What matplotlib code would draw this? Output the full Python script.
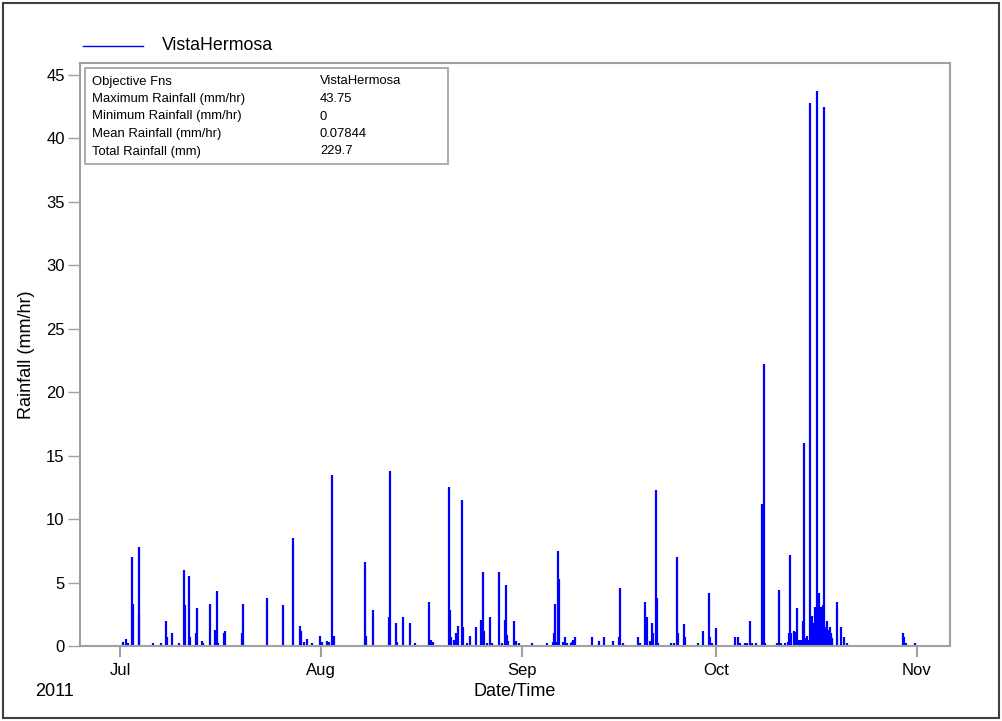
import matplotlib
matplotlib.use('Agg')
import matplotlib.pyplot as plt
import matplotlib.dates as mdates
from matplotlib.patches import Rectangle
import pandas as pd

plt.rcParams['font.family'] = ['Liberation Sans', 'DejaVu Sans']

# rainfall spikes: days after 2011-07-01 00:00, rainfall (mm/hr)
days = [
    0.46, 0.88, 1.28, 1.90, 2.05, 2.89, 2.98, 5.14, 6.37, 7.05, 7.21, 8.02,
    9.06, 9.83, 10.03, 10.65, 10.80, 11.68, 11.88, 12.65, 12.85, 13.94, 14.71,
    14.92, 15.12, 16.00, 16.16, 18.78, 18.94, 22.64, 25.11, 26.65, 27.82,
    27.93, 28.44, 28.81, 29.68, 30.86, 31.13, 31.99, 32.30, 32.72, 33.02,
    37.81, 37.96, 39.00,
    41.56, 41.71, 42.59, 42.79, 43.72, 44.71, 45.52, 47.73, 47.95, 48.26,
    50.82, 50.97, 51.13, 51.54, 51.85, 52.11, 52.82, 52.98, 53.50, 53.97,
    54.94, 55.66, 55.86, 56.07, 56.22, 56.64, 57.05, 57.36, 58.49, 58.95,
    59.46, 59.57, 59.77, 59.92, 60.85, 61.16, 61.62, 63.53, 65.85, 66.77,
    66.93, 67.08, 67.48, 67.64, 67.72, 68.32, 68.67, 68.93, 69.55, 69.75,
    69.91, 70.17, 72.89, 73.92, 74.74, 76.13, 77.06, 77.16, 77.58, 79.98,
    80.20, 80.97, 81.28, 81.79, 82.05, 82.25, 82.76, 82.87, 83.07, 85.03,
    85.45, 86.00, 86.16,
    87.05, 87.16, 89.18, 89.97, 90.83, 91.05, 91.31, 91.94, 94.92, 95.45,
    95.72, 96.45, 96.76, 97.25, 97.53, 98.21, 99.07, 99.23, 99.38, 99.54,
    101.40, 101.67, 102.01, 102.69, 103.09, 103.32, 103.43, 103.58, 104.01,
    104.12, 104.54, 104.78, 105.09, 105.40, 105.56, 105.80, 106.10, 106.25,
    106.40, 106.56, 106.63, 106.70, 106.82, 106.88, 106.95, 107.04, 107.10,
    107.15, 107.25, 107.33, 107.41, 107.52, 107.62, 107.68, 107.74, 107.84,
    107.92, 107.99, 108.07, 108.15, 108.23, 108.32, 108.40, 108.47, 108.58,
    108.63, 108.69, 108.75, 108.80, 108.90, 108.95, 109.00, 109.05, 109.10,
    109.15, 109.21, 109.26, 109.32, 109.40, 109.48, 109.56, 109.65, 109.72,
    109.80, 109.88, 109.95, 110.71, 111.34, 111.67, 112.14,
    120.85, 121.02, 121.33, 122.65,
]
rain = [
    0.3, 0.55, 0.25, 7.0, 3.3, 2.5, 7.8, 0.2, 0.2, 2.0, 0.7, 1.05,
    0.2, 6.0, 3.2, 5.5, 0.7, 1.0, 3.0, 0.4, 0.2, 3.3, 1.3,
    4.3, 0.2, 1.0, 1.2, 1.0, 3.3, 3.75, 3.2, 8.5, 1.6,
    1.2, 0.3, 0.55, 0.2, 0.8, 0.3, 0.4, 0.3, 13.5, 0.8,
    6.6, 0.8, 2.8,
    2.3, 13.8, 1.8, 0.3, 2.3, 1.8, 0.2, 3.5, 0.5, 0.3,
    12.5, 2.8, 0.7, 0.5, 1.0, 1.6, 11.5, 1.5, 0.2, 0.8,
    1.5, 2.05, 1.3, 5.8, 1.2, 0.2, 2.3, 0.2, 5.8, 0.2,
    2.05, 4.8, 0.9, 0.4, 2.0, 0.4, 0.2, 0.2, 0.2, 0.3,
    1.0, 3.3, 0.3, 7.5, 5.3, 0.3, 0.7, 0.2, 0.2, 0.3,
    0.5, 0.7, 0.7, 0.4, 0.7, 0.4, 0.7, 4.55, 0.2, 0.7,
    0.2, 3.5, 2.3, 0.4, 1.8, 1.0, 12.3, 3.8, 0.2, 0.2,
    0.2, 7.0, 1.0,
    1.7, 0.7, 0.2, 1.2, 4.2, 0.7, 0.2, 1.45, 0.7, 0.7,
    0.2, 0.2, 0.2, 1.95, 0.2, 0.2, 11.2, 11.2, 22.2, 0.2,
    0.2, 4.45, 0.2, 0.2, 0.3, 1.0, 7.2, 1.0, 1.2,
    1.1, 3.0, 0.5, 0.5, 2.0, 16.0, 0.6, 0.8, 0.5,
    0.4, 42.8, 0.6, 1.2, 2.4, 1.1, 1.0, 0.7, 0.9,
    1.8, 3.1, 1.2, 1.5, 2.2, 43.75, 1.3, 2.5, 4.2,
    2.0, 1.5, 2.4, 3.1, 1.4, 3.0, 1.6, 3.2, 1.8,
    1.1, 42.5, 1.4, 1.2, 1.5, 1.0, 0.9, 1.3, 2.0,
    1.2, 1.3, 0.9, 1.0, 0.8, 0.7, 0.9, 1.5, 0.8,
    1.0, 0.6, 0.3, 3.5, 1.5, 0.7, 0.2,
    1.0, 0.7, 0.2, 0.2,
]

stat_names = ['Objective Fns', 'Maximum Rainfall (mm/hr)', 'Minimum Rainfall (mm/hr)',
              'Mean Rainfall (mm/hr)', 'Total Rainfall (mm)']
stat_values = ['VistaHermosa', '43.75', '0', '0.07844', '229.7']

base = pd.Timestamp('2011-07-01')
times = base + pd.to_timedelta(days, unit='D')

fig = plt.figure(figsize=(10.02, 7.21), dpi=100)
ax = fig.add_axes([80 / 1002, 1 - 646 / 721, 870 / 1002, 583 / 721])

ax.vlines(times, 0, rain, color='#0000ff', linewidth=1.6)

ax.set_xlim(base - pd.Timedelta(days=6.17), base + pd.Timedelta(days=128.1))
ax.set_ylim(0, 45.95)
ax.set_yticks(range(0, 46, 5))
ax.xaxis.set_major_locator(mdates.MonthLocator())
ax.xaxis.set_major_formatter(mdates.DateFormatter('%b'))

grey = '#a0a0a0'
for s in ax.spines.values():
    s.set_color(grey)
    s.set_linewidth(1.5)
ax.tick_params(axis='y', direction='out', length=9, width=1, color=grey, labelsize=12, pad=2)
ax.tick_params(axis='x', direction='out', length=8, width=1.5, color=grey, labelsize=12, pad=4)

ax.set_ylabel('Rainfall (mm/hr)', fontsize=13, labelpad=8)
fig.text(515 / 1002, 1 - 691 / 721, 'Date/Time', fontsize=13, ha='center', va='center')
fig.text(35 / 1002, 1 - 691 / 721, '2011', fontsize=13, ha='left', va='center')

# legend above the axes
fig.add_artist(plt.Line2D([83 / 1002, 143 / 1002], [1 - 46 / 721] * 2,
                          color='#0000ff', linewidth=1))
fig.text(162 / 1002, 1 - 45 / 721, 'VistaHermosa', fontsize=12.8, ha='left', va='center')

# statistics box
fig.add_artist(Rectangle((85 / 1002, 1 - 164 / 721), 363 / 1002, 96 / 721,
                         transform=fig.transFigure, facecolor='white',
                         edgecolor=grey, linewidth=1.2, zorder=5))
for i, (n, v) in enumerate(zip(stat_names, stat_values)):
    y = 1 - (81.5 + i * 17.5) / 721
    fig.text(92 / 1002, y, n, fontsize=9.4, ha='left', va='center', zorder=6)
    fig.text(320 / 1002, y, v, fontsize=9.4, ha='left', va='center', zorder=6)

# outer frame
fig.add_artist(Rectangle((3 / 1002, 3 / 721), 996 / 1002, 715 / 721,
                         transform=fig.transFigure, fill=False,
                         edgecolor='#404040', linewidth=1.5))

fig.savefig('out.png', dpi=100)
